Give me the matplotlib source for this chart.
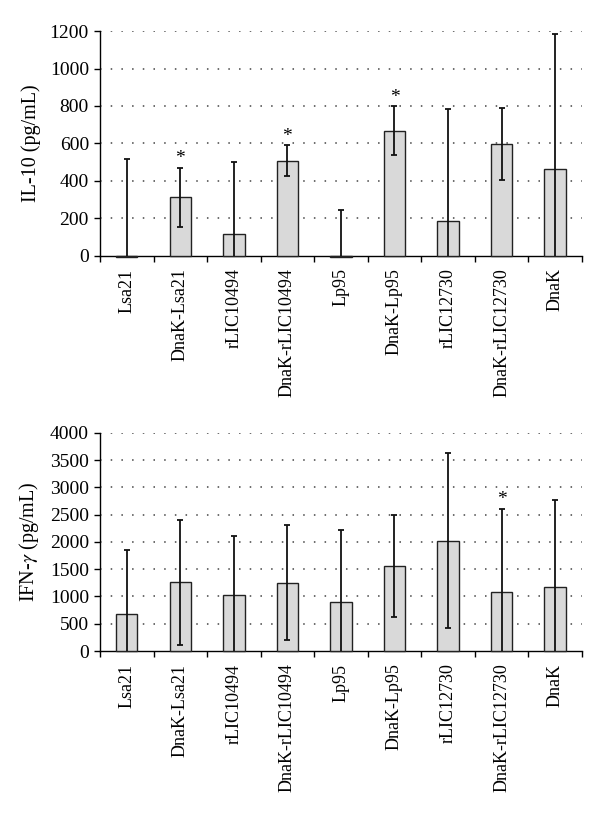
import matplotlib
matplotlib.use("Agg")
import matplotlib.pyplot as plt
import numpy as np

plt.rcParams['font.family'] = ['Liberation Serif', 'DejaVu Serif']
plt.rcParams['mathtext.fontset'] = 'stix'

categories = ["Lsa21", "DnaK-Lsa21", "rLIC10494", "DnaK-rLIC10494", "Lp95",
              "DnaK-Lp95", "rLIC12730", "DnaK-rLIC12730", "DnaK"]

il10_values = [-7, 312, 115, 508, -6, 668, 187, 597, 464]
il10_errors = [525, 158, 388, 84, 250, 130, 595, 194, 718]
il10_sig = [False, True, False, True, False, True, False, False, False]
il10_ticks = [0, 200, 400, 600, 800, 1000, 1200]

ifn_values = [680, 1258, 1025, 1252, 902, 1558, 2025, 1080, 1178]
ifn_errors = [1180, 1140, 1080, 1055, 1320, 930, 1600, 1530, 1600]
ifn_sig = [False, False, False, False, False, False, False, True, False]
ifn_ticks = [0, 500, 1000, 1500, 2000, 2500, 3000, 3500, 4000]

fig = plt.figure(figsize=(6.0, 8.16), dpi=100)
ax1 = fig.add_axes([0.1667, 0.6863, 0.803, 0.2757])
ax2 = fig.add_axes([0.1667, 0.2022, 0.803, 0.2672])


def draw(ax, values, errors, sig, ticks, ylabel):
    x = np.arange(len(categories))
    colors = ['#3a3a3a' if v < 0 else '#d9d9d9' for v in values]
    bars = ax.bar(x, values, width=0.4, color=colors, edgecolor='#222222',
                  linewidth=1.0, zorder=3)
    for b in bars:
        b.set_clip_on(False)
    ax.errorbar(x, values, yerr=errors, fmt='none', ecolor='#111111',
                elinewidth=1.3, capsize=2.5, capthick=1.3, zorder=4)
    top = ticks[-1]
    for xi, v, e, s in zip(x, values, errors, sig):
        if s:
            ax.text(xi, v + e + top * 0.002, '*', ha='center', va='bottom',
                    fontsize=14, zorder=5)
    ax.set_ylim(0, top)
    ax.set_xlim(-0.5, len(categories) - 0.5)
    ax.set_yticks(ticks)
    ax.set_yticklabels([str(t) for t in ticks], fontsize=14)
    ax.set_xticks(x)
    ax.set_xticklabels(categories, rotation=90, fontsize=13)
    ax.set_xticks(np.arange(-0.5, len(categories), 1.0), minor=True)
    ax.tick_params(axis='x', which='major', length=0, pad=9)
    ax.tick_params(axis='x', which='minor', length=4, width=1, direction='out')
    ax.tick_params(axis='y', length=4, width=1, direction='out', pad=4)
    for t in ticks[1:]:
        ax.axhline(t, color='#444444', linestyle=(0, (1, 6)), linewidth=1.1,
                   zorder=1)
    ax.spines['top'].set_visible(False)
    ax.spines['right'].set_visible(False)
    ax.spines['left'].set_linewidth(1.0)
    ax.spines['bottom'].set_linewidth(1.0)
    ax.set_ylabel(ylabel, fontsize=14.5, labelpad=6)


draw(ax1, il10_values, il10_errors, il10_sig, il10_ticks, 'IL-10 (pg/mL)')
draw(ax2, ifn_values, ifn_errors, ifn_sig, ifn_ticks, 'IFN-$\\gamma$ (pg/mL)')

fig.savefig('out.png', dpi=100)
